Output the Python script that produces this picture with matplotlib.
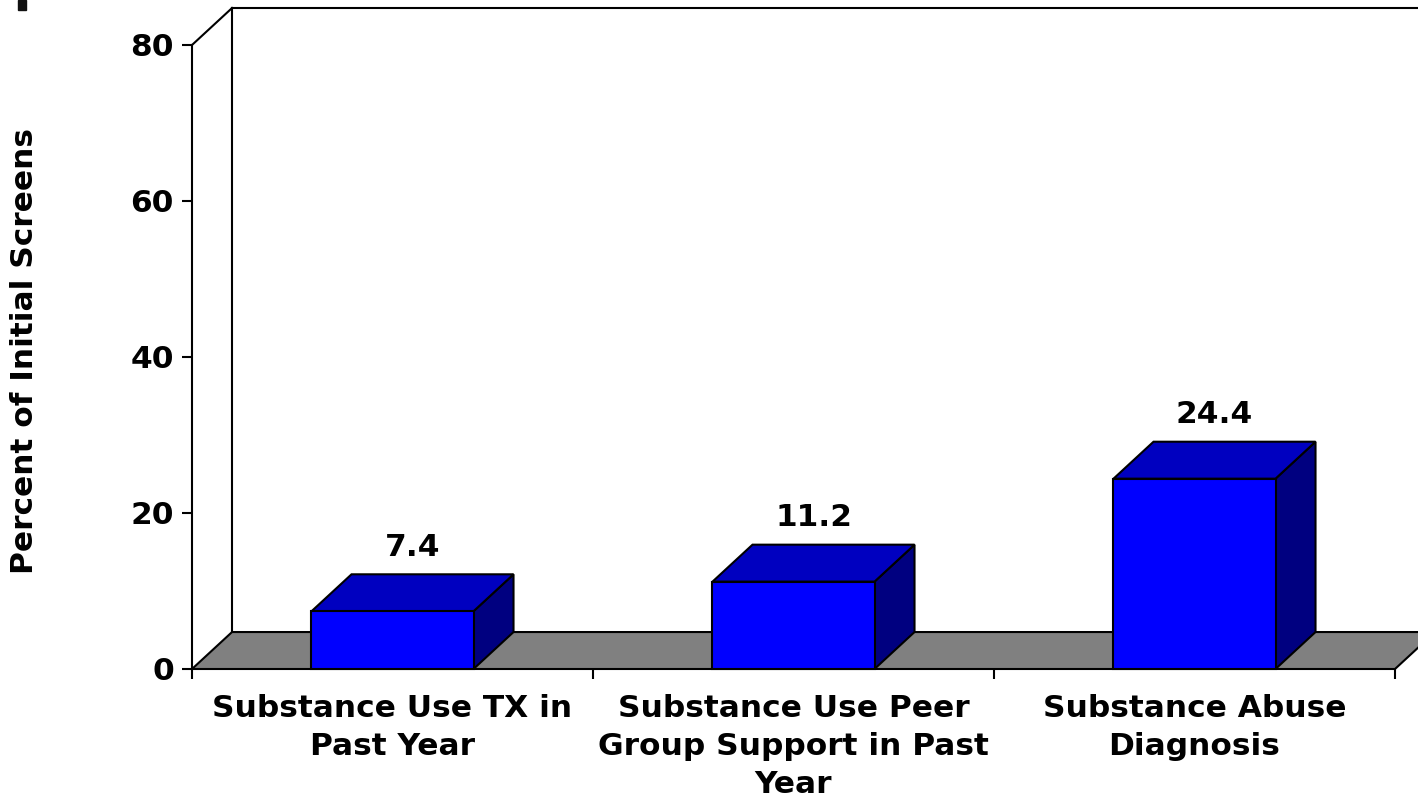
import matplotlib
matplotlib.use("Agg")
import matplotlib.pyplot as plt
from matplotlib.patches import Polygon, Rectangle

# chart data
categories = ["Substance Use TX in\nPast Year",
              "Substance Use Peer\nGroup Support in Past\nYear",
              "Substance Abuse\nDiagnosis"]
values = [7.4, 11.2, 24.4]
yticks = [0, 20, 40, 60, 80]

# fake 3d look: depth offset in data units
DX = 0.0998
DY = 4.74
BAR_W = 0.404

FRONT = "#0000FF"
TOP = "#0000C0"
SIDE = "#000080"
FLOOR = "#808080"
LW = 1.5
FS = 22.5

plt.rcParams["font.family"] = "DejaVu Sans"
plt.rcParams["font.weight"] = "bold"

fig = plt.figure(figsize=(14.18, 8.11), dpi=100)
ax = fig.add_axes([192 / 1418, 142 / 811, 1203 / 1418, 624 / 811])
ax.set_xlim(0, len(categories))
ax.set_ylim(0, 80)

# small dark block in the top left corner
fig.patches.append(Rectangle((18 / 1418, 801 / 811), 8 / 1418, 10 / 811,
                             transform=fig.transFigure, color="#111111"))

n = len(categories)

# floor
ax.add_patch(Polygon([(0, 0), (n, 0), (n + DX, DY), (DX, DY)], closed=True,
                     facecolor=FLOOR, edgecolor="black", lw=LW,
                     clip_on=False, zorder=2))

# walls
ax.plot([0, DX], [80, 80 + DY], color="black", lw=LW, clip_on=False, zorder=1)
ax.plot([DX, DX], [DY, 80 + DY], color="black", lw=LW, clip_on=False, zorder=1)
ax.plot([DX, n + DX], [80 + DY, 80 + DY], color="black", lw=LW,
        clip_on=False, zorder=1)

# bars
for i, v in enumerate(values):
    x0 = i + 0.5 - BAR_W / 2
    x1 = x0 + BAR_W
    side = [(x1, 0), (x1 + DX, DY), (x1 + DX, v + DY), (x1, v)]
    top = [(x0, v), (x1, v), (x1 + DX, v + DY), (x0 + DX, v + DY)]
    front = [(x0, 0), (x1, 0), (x1, v), (x0, v)]
    for pts, col in ((side, SIDE), (top, TOP), (front, FRONT)):
        ax.add_patch(Polygon(pts, closed=True, facecolor=col,
                             edgecolor="black", lw=LW, clip_on=False,
                             zorder=3, joinstyle="miter"))
    ax.text(i + 0.5 + DX / 2, v + DY + 3.5, f"{v:.1f}", ha="center",
            va="center", fontsize=FS, fontweight="bold", zorder=4)

# axes styling
for s in ("top", "right", "bottom"):
    ax.spines[s].set_visible(False)
ax.spines["left"].set_linewidth(LW)
ax.spines["left"].set_zorder(5)

ax.set_yticks(yticks)
ax.set_yticklabels([str(t) for t in yticks], fontsize=FS, fontweight="bold")
ax.tick_params(axis="y", length=7, width=LW, pad=6)

ax.set_xticks(range(n + 1))
ax.set_xticklabels([""] * (n + 1))
ax.tick_params(axis="x", which="major", length=7, width=LW)
ax.set_xticks([i + 0.5 for i in range(n)], minor=True)
ax.set_xticklabels(categories, minor=True, fontsize=FS, fontweight="bold",
                   linespacing=1.4)
ax.tick_params(axis="x", which="minor", length=0, pad=18)

ax.set_ylabel("Percent of Initial Screens", fontsize=FS, fontweight="bold")
ax.yaxis.set_label_coords(-0.127, 0.51)

ax.set_facecolor("none")
fig.savefig("out.png", dpi=100)
